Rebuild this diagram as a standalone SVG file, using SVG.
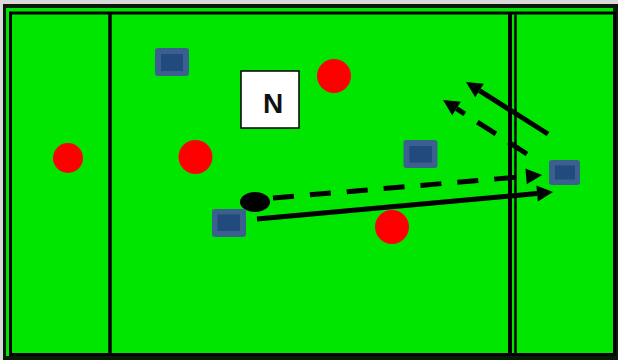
<svg xmlns="http://www.w3.org/2000/svg" width="618" height="360" viewBox="0 0 618 360">
<style>
.player{fill:#3b5f8e}
.player-in{fill:#234a7c}
.ball{fill:#ff0000}
.mv{stroke:#000;stroke-width:5;fill:none;stroke-linecap:butt}
.dash1{stroke-dasharray:21 16}
.dash2{stroke-dasharray:22 15}
.line{stroke:#000;fill:none}
</style>
<defs>
<marker id="ah" markerUnits="userSpaceOnUse" markerWidth="17" markerHeight="17" refX="0" refY="8" orient="auto" overflow="visible">
<path d="M0,0 L16,8 L0,16 Z" fill="#000"/>
</marker>
</defs>
<g id="field">
<rect x="0" y="0" width="618" height="360" fill="#d9d9d9"/>
<rect x="3" y="4" width="615" height="356" fill="#061a06"/>
<rect x="6" y="8" width="607" height="348" fill="#00e600"/>
<rect x="10.5" y="13" width="604" height="341.5" fill="#00e600" stroke="#000" stroke-width="3"/>
<line class="line" x1="110" y1="13" x2="110" y2="355" stroke-width="3.5"/>
<line class="line" x1="510" y1="13" x2="510" y2="355" stroke-width="4"/>
<line class="line" x1="515.5" y1="13" x2="515.5" y2="355" stroke-width="2.5"/>
</g>
<g id="ball-1"><circle class="ball" cx="68" cy="158" r="15"/></g>
<g id="ball-2"><circle class="ball" cx="195.5" cy="157" r="17"/></g>
<g id="ball-3"><circle class="ball" cx="334" cy="76" r="17"/></g>
<g id="ball-4"><circle class="ball" cx="392" cy="227" r="17"/></g>
<g id="player-1"><rect class="player" x="155" y="48" width="34" height="28" rx="3"/><rect class="player-in" x="161" y="54" width="22" height="17"/></g>
<g id="player-2"><rect class="player" x="403.5" y="140" width="34" height="28" rx="3"/><rect class="player-in" x="409.5" y="146" width="22.5" height="16.5"/></g>
<g id="player-3"><rect class="player" x="549" y="160" width="31" height="25" rx="3"/><rect class="player-in" x="555" y="165.5" width="20" height="14"/></g>
<g id="player-4"><rect class="player" x="212" y="209" width="34" height="28" rx="3"/><rect class="player-in" x="217.5" y="214.5" width="22.5" height="16.5"/></g>
<g id="puck"><ellipse cx="255" cy="202" rx="15" ry="10" fill="#000"/></g>
<g id="north">
<rect x="241" y="71" width="58" height="57" fill="#fff" stroke="#000" stroke-width="1.5"/>
<text x="273" y="113" font-family="Liberation Sans, Arial, sans-serif" font-weight="bold" font-size="28" text-anchor="middle" fill="#111">N</text>
</g>
<g id="connectors">
<line class="mv" x1="257" y1="219" x2="537.1" y2="193.5" marker-end="url(#ah)"/>
<line class="mv dash1" x1="273" y1="198" x2="526.1" y2="176.4" marker-end="url(#ah)"/>
<line class="mv" x1="548" y1="134" x2="479.5" y2="90.6" marker-end="url(#ah)"/>
<line class="mv dash2" x1="527" y1="154" x2="456.5" y2="108.6" marker-end="url(#ah)"/>
</g>
</svg>
